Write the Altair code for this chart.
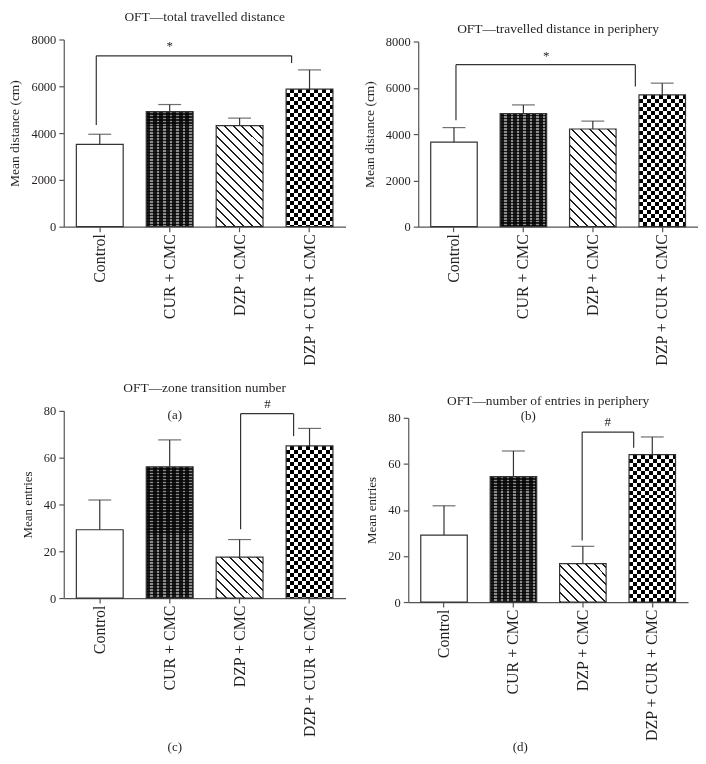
import altair as alt
import pandas as pd

groups = ["Control", "CUR + CMC", "DZP + CMC", "DZP + CUR + CMC"]

# panel (a) OFT total travelled distance
a_mean = [3520, 4920, 4320, 5880]
a_err = [3950, 5220, 4640, 6700]
# panel (b) travelled distance in periphery
b_mean = [3650, 4890, 4220, 5690]
b_err = [4280, 5260, 4560, 6200]
# panel (c) zone transition number
c_mean = [29.2, 56.1, 17.5, 65.0]
c_err = [41.9, 67.6, 25.0, 72.5]
# panel (d) number of entries in periphery
d_mean = [29.1, 54.5, 16.7, 64.0]
d_err = [41.8, 65.6, 24.2, 71.7]

titles = ["OFT\u2014total travelled distance", "OFT\u2014travelled distance in periphery",
          "OFT\u2014zone transition number", "OFT\u2014number of entries in periphery"]
y_titles = ["Mean distance (cm)", "Mean distance (cm)", "Mean entries", "Mean entries"]
captions = ["(a)", "(b)", "(c)", "(d)"]

# significance brackets: from group, to group, bracket level, left leg bottom, right leg bottom
brackets = [
    ("Control", "DZP + CUR + CMC", 7300, 4350, 7000),
    ("Control", "DZP + CUR + CMC", 7000, 4600, 6050),
    ("DZP + CMC", "DZP + CUR + CMC", 78.8, 29.4, 69.2),
    ("DZP + CMC", "DZP + CUR + CMC", 73.8, 26.7, 67.0),
]
sig_symbols = ["*", "*", "#", "#"]
sig_groups = ["CUR + CMC", "CUR + CMC", "DZP + CMC", "DZP + CMC"]
sig_levels = [7530, 7180, 81.1, 76.6]

FONT = "Liberation Serif"
INK = "#231f20"
LINE = "#333333"
AXISC = "#555555"
BANDW = 47.0


def grad(length, period, dark_w, dark, light, x1, y1, x2, y2):
    stops = []
    pos = 0.0
    while pos < length - 1e-9:
        s = pos / length
        e = min((pos + dark_w) / length, 1.0)
        stops.append({"offset": round(s, 5), "color": dark})
        stops.append({"offset": round(e, 5), "color": dark})
        if e < 1.0:
            f = min((pos + period) / length, 1.0)
            stops.append({"offset": round(e, 5), "color": light})
            stops.append({"offset": round(f, 5), "color": light})
        pos += period
    return {"gradient": "linear", "x1": x1, "y1": y1, "x2": x2, "y2": y2, "stops": stops}


def make_panel(i, means, errs, ymax, ystep, view_w, view_h, y_top, x_shift,
               title_offset, title_dx, cap_x, cap_y, sig_dx, br_off, tsize):
    df = pd.DataFrame({"group": groups, "mean": means, "err": errs})
    plot_h = view_h - y_top
    xscale = alt.Scale(domain=groups, range=[-x_shift, view_w - x_shift],
                       paddingInner=0.33, paddingOuter=0.18)
    xaxis = alt.Axis(title=captions[i], titleX=cap_x, titleY=cap_y, titleAngle=0,
                     titleAlign="center", titleBaseline="middle", titleFontSize=13,
                     labelAngle=270, labelAlign="right", labelBaseline="middle",
                     labelFontSize=16, labelPadding=2, tickSize=5)
    yscale = alt.Scale(domain=[0, ymax], range=[view_h, y_top], nice=False, zero=True)
    yaxis = alt.Axis(title=y_titles[i], values=list(range(0, ymax + 1, ystep)), format="d",
                     offset=x_shift, labelFontSize=12.5, titleFontSize=tsize,
                     titlePadding=9, tickSize=5, labelPadding=3)

    def X(f):
        return alt.X(f, type="nominal", scale=xscale, axis=xaxis)

    def Y(f):
        return alt.Y(f, type="quantitative", scale=yscale, axis=yaxis)

    base = alt.Chart(df).encode(x=X("group"), y=Y("mean"))
    layers = []
    layers.append(base.mark_bar(fill="white").transform_filter(alt.datum.group == groups[0]))

    # CUR + CMC: dark textured fill
    h1 = means[1] / ymax * plot_h
    layers.append(base.mark_bar(fill=grad(BANDW, 6.5, 4.0, "#1b1b1b", "#8c8c8c", 0, 0, 1, 0))
                  .transform_filter(alt.datum.group == groups[1]))
    layers.append(base.mark_bar(fill=grad(h1, 3.0, 1.5, "#ffffff", "#3a3a3a", 0, 0, 0, 1),
                                blend="multiply")
                  .transform_filter(alt.datum.group == groups[1]))

    # DZP + CMC: diagonal hatching
    h2 = means[2] / ymax * plot_h
    w = BANDW
    k = (w + h2) / (w * w + h2 * h2)
    layers.append(base.mark_bar(fill=grad(w + h2, 9.0, 2.0, "#1e1e1e", "#ffffff",
                                          0, 1, round(k * w, 5), round(1 - k * h2, 5)))
                  .transform_filter(alt.datum.group == groups[2]))

    # DZP + CUR + CMC: checkerboard
    h3 = means[3] / ymax * plot_h
    layers.append(base.mark_bar(fill=grad(BANDW, 8.0, 4.0, "#000000", "#ffffff", 0, 0, 1, 0))
                  .transform_filter(alt.datum.group == groups[3]))
    layers.append(base.mark_bar(fill=grad(h3, 8.0, 4.0, "#ffffff", "#000000", 0, 0, 0, 1),
                                blend="difference")
                  .transform_filter(alt.datum.group == groups[3]))

    # outlines
    layers.append(base.mark_bar(fillOpacity=0, stroke=LINE, strokeWidth=1.2))

    # error bars
    ebase = alt.Chart(df)
    layers.append(ebase.mark_rule(color=LINE, strokeWidth=1.2).encode(x=X("group"), y=Y("mean"), y2="err"))
    layers.append(ebase.mark_tick(color=LINE, thickness=1.2, size=23).encode(x=X("group"), y=Y("err")))

    # bracket
    bf, bt, lvl, lb, rb = brackets[i]
    bdf = pd.DataFrame({"from": [bf], "to": [bt], "level": [lvl], "lb": [lb], "rb": [rb]})
    bc = alt.Chart(bdf)
    layers.append(bc.mark_rule(color=LINE, strokeWidth=1.2, xOffset=br_off[0], x2Offset=br_off[1])
                  .encode(x=X("from"), x2="to", y=Y("level")))
    layers.append(bc.mark_rule(color=LINE, strokeWidth=1.2, xOffset=br_off[0])
                  .encode(x=X("from"), y=Y("lb"), y2="level"))
    layers.append(bc.mark_rule(color=LINE, strokeWidth=1.2, xOffset=br_off[1])
                  .encode(x=X("to"), y=Y("rb"), y2="level"))

    sdf = pd.DataFrame({"at": [sig_groups[i]], "ty": [sig_levels[i]], "sym": [sig_symbols[i]]})
    layers.append(alt.Chart(sdf).mark_text(font=FONT, fontSize=13, color=INK, xOffset=sig_dx,
                                           baseline="alphabetic")
                  .encode(x=X("at"), y=Y("ty"), text="sym:N"))

    return alt.layer(*layers).properties(
        width=view_w, height=view_h,
        title=alt.TitleParams(text=titles[i], font=FONT, fontSize=13.5, fontWeight="normal",
                              color=INK, anchor="middle", frame="group",
                              offset=title_offset, dx=title_dx))


pa = make_panel(0, a_mean, a_err, 8000, 2000, 283, 188, 0, 0, 10, 0, 111, 189, 0, (-3.5, -18), 13.5)
pb = make_panel(1, b_mean, b_err, 8000, 2000, 281, 188, 2, 0, 0, 0, 110, 190, 23, (2, -27), 13.5)
pc = make_panel(2, c_mean, c_err, 80, 20, 283, 188, 0, 0, 4, 0, 111, 149, 28, (1, -16), 13)
pd_ = make_panel(3, d_mean, d_err, 80, 20, 281, 192, 7, 10, 3, -10, 102, 145, 25, (-0.7, -18.7), 13)

chart = alt.concat(pa, pb, pc, pd_, columns=2, spacing={"row": 185, "column": 73},
                   bounds="flush").properties(
    padding={"left": 0, "top": 0, "right": 0, "bottom": 0},
    background="white"
).configure_view(strokeWidth=0).configure_axis(
    grid=False, domainColor=AXISC, tickColor=AXISC, domainWidth=1.2, tickWidth=1.2,
    labelFont=FONT, titleFont=FONT, labelColor=INK, titleColor=INK, titleFontWeight="normal"
)

chart.save("out.html", embed_options={"renderer": "svg", "actions": False})
